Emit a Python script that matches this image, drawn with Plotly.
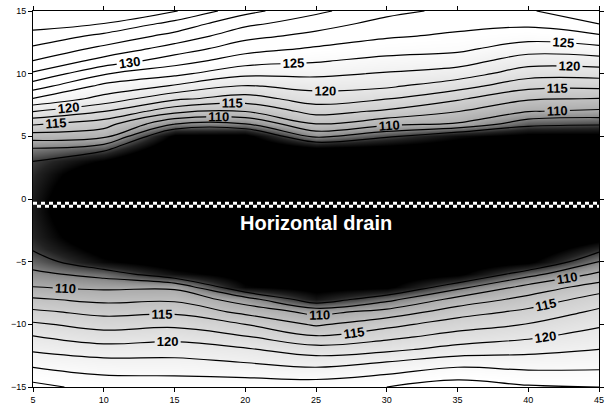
import plotly.graph_objects as go

# Grid (units as on the axes)
x_pos = [5, 10, 15, 20, 25, 30, 35, 40, 45]
y_pos = [-15, -14, -13, -12, -11, -10, -9, -8, -7, -6, -5, -4, -3, -2, -1, 0,
         1, 2, 3, 4, 5, 6, 7, 8, 9, 10, 11, 12, 13, 14, 15]

# Hydraulic head read column by column (y from -15 up to 15)
head_x05 = [128.3, 126.2, 124.1, 122.1, 120.2, 117.9, 115.5, 112.8, 110.0, 108.1, 106.4,
            104.8, 104.1, 103.8, 103.6, 103.6, 103.9, 104.3, 105.0, 107.3, 111.25,
            115.4, 120.1, 124.9, 128.7, 132.1, 134.9, 137.0, 139.3, 140.8, 142.0]
head_x10 = [126.5, 124.9, 123.2, 121.05, 118.7, 116.5, 114.2, 111.8, 109.4, 106.6, 102.5,
            100.8, 99.0, 97.8, 96.7, 96.5, 97.75, 99.0, 101.8, 105.7, 110.7,
            113.6, 117.6, 121.6, 124.3, 127.7, 131.5, 134.4, 136.8, 140.0, 142.0]
head_x15 = [126.6, 124.8, 123.1, 121.3, 119.2, 116.9, 114.5, 112.0, 109.4, 102.9, 100.4,
            98.7, 97.0, 96.2, 95.5, 95.2, 95.8, 96.4, 97.0, 99.2, 101.4,
            107.7, 113.3, 118.0, 122.2, 125.6, 128.6, 131.4, 134.2, 136.7, 140.2]
head_x20 = [127.0, 124.35, 122.4, 120.3, 117.7, 115.0, 111.8, 108.6, 102.3, 100.8, 99.5,
            98.3, 97.0, 96.2, 95.5, 95.2, 95.8, 96.4, 97.0, 99.1, 101.2,
            107.5, 112.6, 116.4, 119.75, 123.2, 126.05, 128.5, 130.8, 133.1, 135.8]
head_x25 = [126.5, 124.0, 121.4, 118.6, 115.3, 112.1, 109.2, 103.2, 101.0, 99.9, 98.7,
            97.6, 96.5, 95.9, 95.35, 95.3, 96.2, 97.0, 99.1, 101.3, 108.2,
            112.5, 116.0, 118.7, 120.8, 123.1, 125.2, 127.2, 129.2, 131.2, 133.0]
head_x30 = [127.5, 125.0, 122.5, 119.4, 116.85, 114.2, 110.9, 106.7, 101.5, 100.3, 99.0,
            97.8, 96.5, 95.9, 95.35, 95.3, 96.2, 97.0, 98.9, 100.8, 105.4,
            110.8, 114.6, 117.6, 120.4, 122.25, 124.2, 126.1, 127.8, 129.1, 130.8]
head_x35 = [128.8, 126.5, 123.9, 120.9, 118.5, 116.3, 113.8, 110.8, 106.6, 101.5, 100.0,
            98.5, 97.0, 96.4, 95.85, 95.7, 96.2, 96.7, 98.0, 100.1, 102.6,
            109.8, 112.6, 115.35, 118.5, 121.3, 123.6, 125.6, 127.1, 128.25, 129.3]
head_x40 = [127.8, 125.7, 123.7, 121.7, 119.6, 117.6, 115.6, 113.3, 110.75, 106.6, 101.5,
            99.5, 97.5, 96.9, 96.35, 96.1, 96.4, 96.7, 97.0, 99.1, 101.2,
            106.0, 110.1, 112.8, 115.75, 118.6, 121.1, 123.65, 126.1, 128.05, 129.8]
head_x45 = [127.5, 125.6, 124.0, 122.5, 121.1, 119.6, 118.0, 116.1, 113.6, 110.5, 107.5,
            104.2, 100.7, 97.5, 97.2, 97.05, 97.2, 97.4, 97.5, 99.4, 101.3,
            105.4, 109.6, 112.4, 115.6, 118.6, 121.3, 124.3, 127.1, 130.1, 131.5]

columns = [head_x05, head_x10, head_x15, head_x20, head_x25,
           head_x30, head_x35, head_x40, head_x45]
z = [list(row) for row in zip(*columns)]

# Labelled contours: level -> how many labels along the line, per half of the map
top_labels = {110: 3, 115: 3, 120: 3, 125: 2, 130: 1}
bottom_labels = {110: 3, 115: 3, 120: 2}

# Drain
drain_x = [5, 45]
drain_y = -0.45
drain_label = "Horizontal drain"
drain_label_pos = (25, -1.95)

x_ticks = [5, 10, 15, 20, 25, 30, 35, 40, 45]
y_ticks = [-15, -10, -5, 0, 5, 10, 15]

ZMIN, ZMAX = 95, 145


def n(v):
    return (v - ZMIN) / (ZMAX - ZMIN)


gray_scale = [
    [0.0, "#000000"],
    [n(102.0), "#000000"],
    [n(104.0), "#222222"],
    [n(106.0), "#5a5a5a"],
    [n(108.0), "#8e8e8e"],
    [n(110.0), "#adadad"],
    [n(112.5), "#c0c0c0"],
    [n(115.0), "#cfcfcf"],
    [n(117.5), "#dbdbdb"],
    [n(120.0), "#e7e7e7"],
    [n(122.5), "#f1f1f1"],
    [n(125.0), "#fafafa"],
    [n(127.0), "#ffffff"],
    [1.0, "#ffffff"],
]

fig = go.Figure()

# shading
fig.add_trace(go.Contour(
    x=x_pos, y=y_pos, z=z, zmin=ZMIN, zmax=ZMAX, zauto=False,
    colorscale=gray_scale, showscale=False, hoverinfo="skip",
    contours=dict(coloring="heatmap", showlines=False, start=100, end=145, size=2.5),
    line=dict(width=0),
))

line_style = dict(color="black", width=1.2, smoothing=1.1)
label_font = dict(family="Liberation Sans, Arial, sans-serif", size=13,
                  color="black", weight="bold")


def half_grid(half):
    if half == "top":
        ri = [j for j, yv in enumerate(y_pos) if yv >= 0]
    else:
        ri = [j for j, yv in enumerate(y_pos) if yv <= 0]
    return [y_pos[j] for j in ri], [z[j] for j in ri]


def add_lines(ys, zs, start, end, size=5, labels=False):
    c = dict(coloring="none", start=start, end=end, size=size)
    if labels:
        c.update(showlabels=True, labelfont=label_font, labelformat=".0f")
    fig.add_trace(go.Contour(x=x_pos, y=ys, z=zs, showscale=False, hoverinfo="skip",
                             contours=c, line=line_style))


# unlabelled lines over the whole map
add_lines(y_pos, z, 107.5, 142.5)
add_lines(y_pos, z, 105, 105)
add_lines(y_pos, z, 135, 140)

# plotly spaces labels by the number of levels in a trace; pad each labelled
# trace with empty levels far above the data to get the wanted label count
PAD = {1: 1, 2: 35, 3: 60}
for half, labels in (("top", top_labels), ("bottom", bottom_labels)):
    ys, zs = half_grid(half)
    for lvl, count in labels.items():
        if count > 1:
            add_lines(ys, zs, lvl, lvl + (PAD[count] - 1) * 1000, size=1000, labels=True)
        else:
            add_lines(ys, zs, lvl, lvl, labels=True)
ys, zs = half_grid("bottom")
add_lines(ys, zs, 125, 130)

# drain: two offset rows of white squares (checker look)
fig.add_trace(go.Scatter(
    x=drain_x, y=[drain_y + 0.12] * 2, mode="lines", hoverinfo="skip",
    line=dict(color="white", width=3, dash="4px,4px"), showlegend=False,
))
fig.add_trace(go.Scatter(
    x=drain_x, y=[drain_y - 0.12] * 2, mode="lines", hoverinfo="skip",
    line=dict(color="white", width=3, dash="0px,4px,4px,0px"), showlegend=False,
))

fig.add_annotation(
    x=drain_label_pos[0], y=drain_label_pos[1], text="<b>%s</b>" % drain_label,
    showarrow=False, font=dict(family="Liberation Sans, Arial, sans-serif",
                               size=20, color="white"),
)

axis_common = dict(
    showline=True, linecolor="black", linewidth=1, mirror="ticks",
    ticks="outside", ticklen=4, tickwidth=1, tickcolor="black",
    showgrid=False, zeroline=False,
    tickfont=dict(family="Liberation Sans Narrow, Liberation Sans, Arial, sans-serif",
                  size=9, color="black"),
)

fig.update_layout(
    width=610, height=411,
    margin=dict(l=33, r=6, t=10, b=21),
    paper_bgcolor="white", plot_bgcolor="white",
    showlegend=False,
    xaxis=dict(range=[5, 45], tickvals=x_ticks, **axis_common),
    yaxis=dict(range=[-15, 15], tickvals=y_ticks, **axis_common),
)

fig.write_html("out.html", config={"displayModeBar": False},
               post_script="document.body.style.margin='0';document.body.style.overflow='hidden';")
